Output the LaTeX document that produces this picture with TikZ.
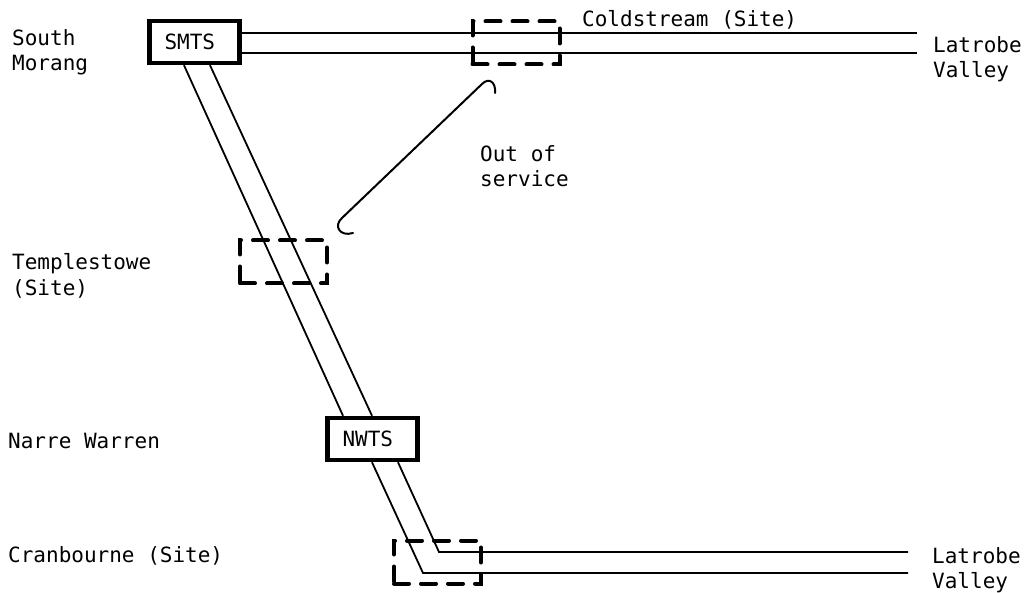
\documentclass[tikz,border=0pt]{standalone}
\usepackage{fontspec}
\setmainfont{DejaVu Sans Mono}

\tikzset{
    station/.style={draw, line width=4.5pt, minimum height=42pt, text width=60pt, inner xsep=15pt, align=left},
    site/.style={draw, line width=4pt, dash pattern=on 15pt off 12pt, line cap=round, minimum width=87pt, minimum height=43pt},
    cable/.style={line width=1.8pt},
    lead/.style={line width=2pt, line cap=round},
    place/.style={anchor=base west, align=left, inner sep=0pt}
    }

\begin{document}
\begin{tikzpicture}[x=1pt, y=-1pt, font=\fontsize{21}{25}\selectfont]
                \useasboundingbox (0,0) rectangle (1027,593);
                % Terminal stations and the sites
                \node(smts)[station] at (194.5,42) {SMTS};
                \node(nwts)[station] at (372.5,439) {NWTS};
                \node(coldstream)[site] at (516,43) {};
                \node(templestowe)[site] at (283.5,262) {};
                \node(cranbourne)[site] at (437.5,562) {};
                % Line ends
                \coordinate (lvtopa) at (917,33);
                \coordinate (lvtopb) at (917,53);
                \coordinate (lvbota) at (908,552);
                \coordinate (lvbotb) at (908,573);
                \coordinate (hooka) at (353,233);
                \coordinate (hookb) at (495,93);
                % The lines
                \draw[cable] (smts.east |- lvtopa) -- (lvtopa);
                \draw[cable] (smts.east |- lvtopb) -- (lvtopb);
                \draw[cable] (smts.south -| 184,0) -- (nwts.north -| 343,0);
                \draw[cable] (smts.south -| 210,0) -- (nwts.north -| 372,0);
                \draw[cable] (nwts.south -| 372,0) -- (423,573) -- (lvbotb);
                \draw[cable] (nwts.south -| 398,0) -- (439,552) -- (lvbota);
                \draw[lead] (hooka) .. controls (340,237) and (333,226) .. (342,218)
                    -- (482,84) .. controls (489,77) and (496,82) .. (hookb);
                % Labels (base is the last line)
                \node(southmorang)[place] at (12,71) {South\\Morang};
                \node(coldlabel)[place] at (582,27) {Coldstream (Site)};
                \node(lvtop)[place] at (933,78) {Latrobe\\Valley};
                \node(outofservice)[place] at (480,187) {Out of\\service};
                \node(templelabel)[place] at (12,295) {Templestowe\\(Site)};
                \node(narrewarren)[place] at (8,448) {Narre Warren};
                \node(cranlabel)[place] at (8,562) {Cranbourne (Site)};
                \node(lvbot)[place] at (932,588) {Latrobe\\Valley};
            \end{tikzpicture}
\end{document}
